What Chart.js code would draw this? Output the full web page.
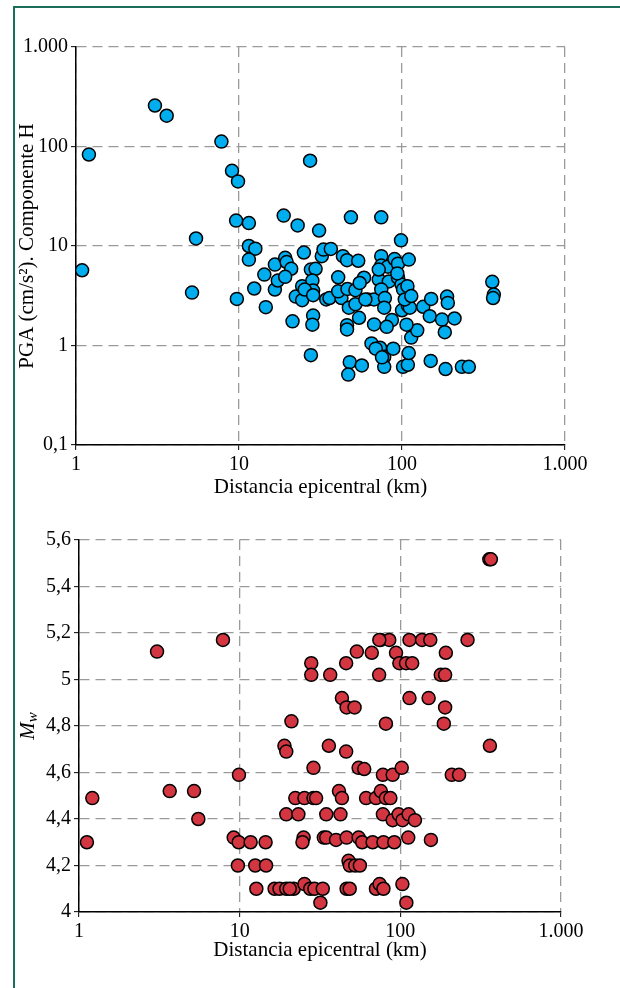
<!DOCTYPE html>
<html>
<head>
<meta charset="utf-8">
<script src="https://cdn.jsdelivr.net/npm/chart.js@4"></script>
<style>
  html, body { margin: 0; padding: 0; background: #fff; }
  body { width: 620px; height: 988px; position: relative; overflow: hidden; }
  #frame { position: absolute; left: 13px; top: 6px; width: 700px; height: 1100px;
           border-left: 2px solid #1b6e5a; border-top: 2px solid #1b6e5a; }
  #c1 { position: absolute; left: 0; top: 0; }
  #c2 { position: absolute; left: 0; top: 500px; }
</style>
</head>
<body>
<div id="frame"></div>
<canvas id="c1" width="620" height="500"></canvas>
<canvas id="c2" width="620" height="488"></canvas>
<script>
// axis ticks
const distTicks = [1, 10, 100, 1000];
const distLabels = ['1', '10', '100', '1.000'];
const pgaTicks = [0.1, 1, 10, 100, 1000];
const pgaLabels = ['0,1', '1', '10', '100', '1.000'];
const mwTicks = [4, 4.2, 4.4, 4.6, 4.8, 5, 5.2, 5.4, 5.6];
const mwLabels = ['4', '4,2', '4,4', '4,6', '4,8', '5', '5,2', '5,4', '5,6'];

// top chart: epicentral distance (km) vs PGA (cm/s2)
const pgaDist = [1.09, 1.2, 3.05, 3.6, 5.15, 5.45, 7.8, 9.06, 9.86, 27.3,
  9.6, 11.5, 18.8, 22.9, 31, 48.6, 74.6, 98.6, 11.5, 12.6,
  11.5, 9.7, 12.4, 14.6, 14.3, 16.6, 16.6, 17.3, 19.2, 19.6,
  20.9, 19.2, 25, 21.3, 22.3, 24.4, 24.4, 27.6, 29.5, 28.2,
  28.5, 28.5, 28.2, 27.6, 32.2, 33, 36.6, 34.3, 35.9, 40.6,
  43.4, 46, 53.9, 42.5, 40.6, 46.3, 51.8, 47.2, 51.8, 54.5,
  46, 46, 47.8, 56.7, 46.8, 58.5, 55, 61.6, 67.4, 74.6,
  74.6, 82, 90, 94.5, 110, 72, 83, 94.5, 74.6, 78.5,
  99.3, 77.8, 86.7, 67.4, 80.6, 65, 73.3, 77.8, 88.4, 77.8,
  101.5, 108.6, 110, 113.9, 124, 106.6, 100, 110, 108.6, 111.7,
  135, 151, 148, 176, 183, 189, 191, 210, 150, 185,
  233, 257, 101.5, 108, 104, 114, 93.6, 72, 25.3, 28.5,
  69, 75.4, 59.6, 358, 366, 362];
const pgaVal = [5.7, 83, 258, 204, 3.4, 11.9, 112, 57, 44.6, 72,
  18, 17, 20.2, 16.1, 14.3, 19.4, 19.4, 11.4, 10, 9.4,
  7.3, 2.94, 3.74, 2.43, 5.16, 6.5, 3.65, 4.5, 7.6, 6.9,
  5.9, 4.9, 8.6, 1.75, 3.1, 2.85, 3.95, 5.8, 5.9, 4.5,
  3.57, 2.0, 1.62, 0.8, 7.9, 9.2, 9.35, 2.9, 3.0, 4.85,
  7.9, 7.2, 7.1, 3.0, 3.5, 3.7, 3.6, 2.4, 2.6, 1.9,
  1.6, 1.45, 0.68, 0.63, 0.51, 4.8, 4.25, 2.9, 2.9, 7.9,
  6.35, 6.2, 7.4, 6.65, 7.3, 4.6, 4.4, 4.8, 3.66, 3.0,
  4.1, 2.4, 1.8, 1.63, 1.54, 1.05, 0.95, 0.77, 0.93, 0.61,
  0.61, 0.64, 0.84, 1.2, 1.42, 1.62, 2.26, 3.2, 2.53, 2.4,
  2.45, 2.94, 1.97, 1.82, 1.36, 3.1, 2.68, 1.87, 0.7, 0.58,
  0.61, 0.61, 3.66, 3.95, 2.9, 3.14, 5.3, 5.8, 3.65, 3.2,
  0.93, 0.76, 2.9, 4.37, 3.25, 3.0];

// bottom chart: epicentral distance (km) vs moment magnitude
const mwDist = [1.12, 1.21, 3.06, 3.67, 5.2, 5.53, 7.87, 9.18, 9.86, 9.75,
  9.9, 11.7, 12.5, 12.7, 14.5, 14.6, 16.5, 17.7, 19.5, 21.7,
  25.3, 27.5, 29.2, 32.9, 31.8, 46.3, 48.4, 47.6, 48.5, 52.4,
  56, 19.5, 23.2, 34.6, 42.4, 22.2, 25.3, 28.8, 29.9, 41.5,
  43.3, 28.8, 19, 19.5, 21, 35.9, 46, 55, 25, 24.6,
  33.4, 34.6, 39.8, 46.3, 55, 57.9, 67.2, 78.5, 91.7, 112,
  155, 27.9, 27.9, 36.6, 46, 53.6, 43.3, 46.3, 51.9, 66.4,
  75.5, 85.3, 74, 114, 136.5, 153.6, 262, 94, 98.6, 108.5,
  118.5, 73.8, 178.5, 190, 192, 114, 150, 190, 81.3, 186.5,
  59.6, 77.9, 89.6, 102, 209, 232, 361, 61.2, 70.5, 75.6,
  81.3, 86.7, 77.9, 89.6, 97.6, 103.2, 112.6, 123.3, 70.5, 74.3,
  78.5, 103, 109, 358, 366, 20.5];
const mwVal = [4.3, 4.49, 5.12, 4.52, 4.52, 4.4, 5.17, 4.32, 4.3, 4.2,
  4.59, 4.3, 4.2, 4.1, 4.3, 4.2, 4.1, 4.1, 4.1, 4.1,
  4.12, 4.1, 4.1, 4.1, 4.04, 4.1, 4.1, 4.22, 4.2, 4.2,
  4.2, 4.42, 4.42, 4.42, 4.42, 4.49, 4.49, 4.49, 4.49, 4.52,
  4.49, 4.62, 4.715, 4.69, 4.82, 4.715, 4.69, 4.62, 4.32, 4.3,
  4.32, 4.32, 4.31, 4.32, 4.32, 4.3, 4.3, 4.3, 4.3, 4.32,
  4.31, 5.07, 5.02, 5.02, 5.07, 5.12, 4.92, 4.88, 4.88, 5.115,
  5.17, 5.17, 5.17, 5.17, 5.17, 5.17, 5.17, 5.115, 5.07, 5.07,
  5.07, 5.02, 5.02, 5.02, 5.115, 4.92, 4.92, 4.88, 4.81, 4.81,
  4.615, 4.59, 4.59, 4.62, 4.59, 4.59, 4.715, 4.49, 4.49, 4.52,
  4.49, 4.49, 4.42, 4.395, 4.42, 4.395, 4.42, 4.395, 4.1, 4.12,
  4.1, 4.12, 4.04, 5.517, 5.517, 4.1];

const fontFam = "'Liberation Serif', 'Times New Roman', serif";
const tickFont = { family: fontFam, size: 20 };
const titleFont = { family: fontFam, size: 21 };

const toPoints = (xs, ys) => xs.map((x, i) => ({ x: x, y: ys[i] }));

const gridOpts = {
  color: '#9a9a9a',
  lineWidth: 1.3,
  tickColor: '#000',
  tickLength: 5,
  tickWidth: 1,
  tickBorderDash: []
};
// in v4 border.dash is what dashes the grid lines
const borderOpts = { color: '#000', width: 1.5, dash: [10, 6] };

const setTicks = list => s => { s.ticks = list.map(v => ({ value: v })); };

const baseOpts = () => ({
  responsive: false,
  animation: false,
  plugins: { legend: { display: false }, tooltip: { enabled: false } },
});

// draws the italic M with subscript w as y title
const mwTitle = {
  id: 'mwTitle',
  afterDraw(chart) {
    const { ctx, chartArea } = chart;
    const cy = (chartArea.top + chartArea.bottom) / 2;
    ctx.save();
    ctx.translate(28, cy);
    ctx.rotate(-Math.PI / 2);
    ctx.fillStyle = '#000';
    ctx.textBaseline = 'middle';
    ctx.font = `italic 21px ${fontFam}`;
    const wM = ctx.measureText('M').width;
    ctx.font = `italic 15px ${fontFam}`;
    const wW = ctx.measureText('w').width;
    const x0 = -(wM + wW) / 2;
    ctx.font = `italic 21px ${fontFam}`;
    ctx.fillText('M', x0, 0);
    ctx.font = `italic 15px ${fontFam}`;
    ctx.fillText('w', x0 + wM, 5);
    ctx.restore();
  }
};

// top chart
const opts1 = baseOpts();
opts1.layout = { padding: { left: 0, right: 55, top: 47, bottom: 0 } };
opts1.scales = {
  x: {
    type: 'logarithmic', min: 1, max: 1000,
    afterBuildTicks: setTicks(distTicks),
    afterFit: s => { s.height = 55; },
    grid: gridOpts, border: borderOpts,
    ticks: { font: tickFont, color: '#000', padding: 3, autoSkip: false, maxRotation: 0,
             callback: (v, i) => distLabels[i] },
    title: { display: true, text: 'Distancia epicentral (km)', font: titleFont, color: '#000',
             padding: { top: 0, bottom: 0 } }
  },
  y: {
    type: 'logarithmic', min: 0.1, max: 1000,
    afterBuildTicks: setTicks(pgaTicks),
    afterFit: s => { s.width = 76; },
    grid: gridOpts, border: borderOpts,
    ticks: { font: tickFont, color: '#000', padding: 3, autoSkip: false,
             callback: (v, i) => pgaLabels[i] },
    title: { display: true, text: 'PGA (cm/s²). Componente H', font: titleFont, color: '#000',
             padding: { top: 15, bottom: 0 } }
  }
};
new Chart(document.getElementById('c1'), {
  type: 'scatter',
  data: {
    datasets: [{
      data: toPoints(pgaDist, pgaVal),
      backgroundColor: '#00adef',
      borderColor: '#000',
      borderWidth: 1.5,
      pointRadius: 6.5
    }]
  },
  options: opts1
});

// bottom chart
const opts2 = baseOpts();
opts2.layout = { padding: { left: 0, right: 59, top: 40, bottom: 0 } };
opts2.scales = {
  x: {
    type: 'logarithmic', min: 1, max: 1000,
    afterBuildTicks: setTicks(distTicks),
    afterFit: s => { s.height = 76; },
    grid: gridOpts, border: borderOpts,
    ticks: { font: tickFont, color: '#000', padding: 3, autoSkip: false, maxRotation: 0,
             callback: (v, i) => distLabels[i] },
    title: { display: true, text: 'Distancia epicentral (km)', font: titleFont, color: '#000',
             padding: { top: 0, bottom: 25 } }
  },
  y: {
    type: 'linear', min: 4, max: 5.6,
    afterBuildTicks: setTicks(mwTicks),
    afterFit: s => { s.width = 79; },
    grid: gridOpts, border: borderOpts,
    ticks: { font: tickFont, color: '#000', padding: 3, autoSkip: false,
             callback: (v, i) => mwLabels[i] }
  }
};
new Chart(document.getElementById('c2'), {
  type: 'scatter',
  data: {
    datasets: [{
      data: toPoints(mwDist, mwVal),
      backgroundColor: '#d33641',
      borderColor: '#000',
      borderWidth: 1.5,
      pointRadius: 6.5
    }]
  },
  options: opts2,
  plugins: [mwTitle]
});
</script>
</body>
</html>
